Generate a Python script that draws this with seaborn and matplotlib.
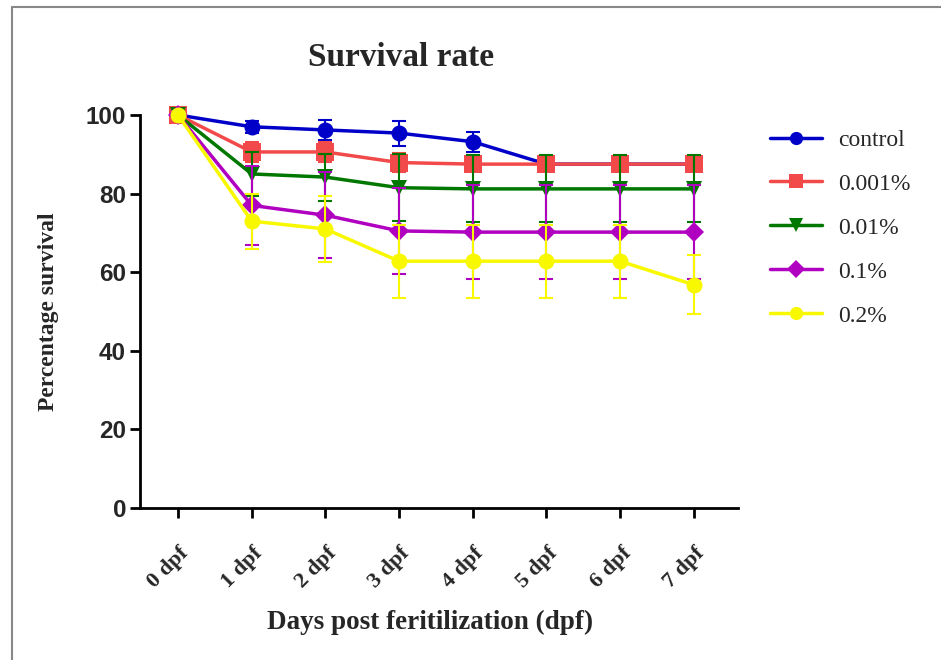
import matplotlib
matplotlib.use("Agg")
import matplotlib.pyplot as plt
import matplotlib.transforms as mtransforms
from matplotlib.lines import Line2D
import seaborn as sns
import pandas as pd

days = ["0 dpf", "1 dpf", "2 dpf", "3 dpf", "4 dpf", "5 dpf", "6 dpf", "7 dpf"]
groups = ["control", "0.001%", "0.01%", "0.1%", "0.2%"]

control = [100, 97.0, 96.2, 95.4, 93.2, 87.5, 87.5, 87.5]
control_err = [0, 1.5, 2.5, 3.2, 2.5, 0, 0, 0]
c0001 = [100, 90.6, 90.6, 87.9, 87.5, 87.5, 87.5, 87.5]
c0001_err = [0, 2.5, 2.5, 2.5, 0, 0, 0, 0]
c001 = [100, 85.0, 84.2, 81.5, 81.2, 81.2, 81.2, 81.2]
c001_err = [0, 5.5, 6.0, 8.5, 8.5, 8.5, 8.5, 8.5]
c01 = [100, 77.0, 74.5, 70.5, 70.2, 70.2, 70.2, 70.2]
c01_err = [0, 10.0, 11.0, 11.0, 12.0, 12.0, 12.0, 12.0]
c02 = [100, 73.0, 71.0, 62.8, 62.8, 62.8, 62.8, 56.8]
c02_err = [0, 7.0, 8.5, 9.3, 9.3, 9.3, 9.3, 7.5]

values = [control, c0001, c001, c01, c02]
errors = [control_err, c0001_err, c001_err, c01_err, c02_err]
colors = ["#0000c8", "#f24a4a", "#007800", "#b000c0", "#f8f800"]
markers = ["o", "s", "v", "D", "o"]
msizes = [11.5, 12.5, 11.5, 10.5, 11.5]

rows = []
for g, vals in zip(groups, values):
    for i, v in enumerate(vals):
        rows.append({"day": i, "group": g, "survival": v})
df = pd.DataFrame(rows)

sns.set_style("white")
fig = plt.figure(figsize=(9.41, 6.6), dpi=100)
ax = fig.add_axes([140 / 941, 1 - 508 / 660, (738 - 140) / 941, (508 - 115) / 660])

serif = "Liberation Serif"
sans = "Liberation Sans"

for k, g in enumerate(groups):
    sub = df[df["group"] == g]
    ax.errorbar(sub["day"], sub["survival"], yerr=errors[k], fmt="none",
                ecolor=colors[k], elinewidth=1.5, capsize=5, capthick=1.5,
                zorder=2 + k * 0.1, clip_on=False)
    sns.lineplot(data=sub, x="day", y="survival", color=colors[k],
                 marker=markers[k], markersize=msizes[k], linewidth=2.5,
                 markeredgewidth=0, ax=ax, legend=False, zorder=2.05 + k * 0.1,
                 clip_on=False)

ax.set_xlim(-0.516, 7.6)
ax.set_ylim(0, 100)
ax.tick_params(axis="both", direction="out", length=7, width=2, color="black",
               bottom=True, left=True)
ax.tick_params(axis="x", pad=6)
ax.tick_params(axis="y", pad=3)
ax.set_xticks(range(len(days)))
ax.set_xticklabels(days, rotation=45, ha="right", va="center",
                   rotation_mode="anchor", fontfamily=serif, fontweight="bold",
                   fontsize=16)
ax.set_yticks([0, 20, 40, 60, 80, 100])
ax.set_yticklabels(["0", "20", "40", "60", "80", "100"], fontfamily=sans,
                   fontweight="bold", fontsize=17.5)
offset = mtransforms.ScaledTranslation(8 / 100, -24 / 100, fig.dpi_scale_trans)
for lab in ax.get_xticklabels():
    lab.set_transform(lab.get_transform() + offset)
for s in ["top", "right"]:
    ax.spines[s].set_visible(False)
for s in ["left", "bottom"]:
    ax.spines[s].set_linewidth(2)
    ax.spines[s].set_color("black")
ax.set_xlabel("")
ax.set_ylabel("")

fig.text(401 / 941, 1 - 58 / 660, "Survival rate", ha="center", va="center",
         fontfamily=serif, fontweight="bold", fontsize=24)
fig.text(49 / 941, 1 - 312 / 660, "Percentage survival", ha="center",
         va="center", rotation=90, fontfamily=serif, fontweight="bold",
         fontsize=17)
fig.text(430 / 941, 1 - 622 / 660, "Days post feritilization (dpf)",
         ha="center", va="center", fontfamily=serif, fontweight="bold",
         fontsize=19.5)

handles = [Line2D([0], [0], color=c, marker=m, markersize=9.5, linewidth=2.5,
                  markeredgewidth=0) for c, m in zip(colors, markers)]
leg = ax.legend(handles, groups, loc="upper left",
                bbox_to_anchor=(749 / 941, 1 - 108 / 660),
                bbox_transform=fig.transFigure, frameon=False,
                prop={"family": serif, "size": 17}, handlelength=2.2,
                handletextpad=0.68, labelspacing=0.95)

fig.add_artist(Line2D([12 / 941, 1], [1 - 7 / 660, 1 - 7 / 660],
                      transform=fig.transFigure, color="#888888", linewidth=1.5))
fig.add_artist(Line2D([12 / 941, 12 / 941], [0, 1 - 7 / 660],
                      transform=fig.transFigure, color="#888888", linewidth=1.5))

fig.savefig("out.png", dpi=100)
